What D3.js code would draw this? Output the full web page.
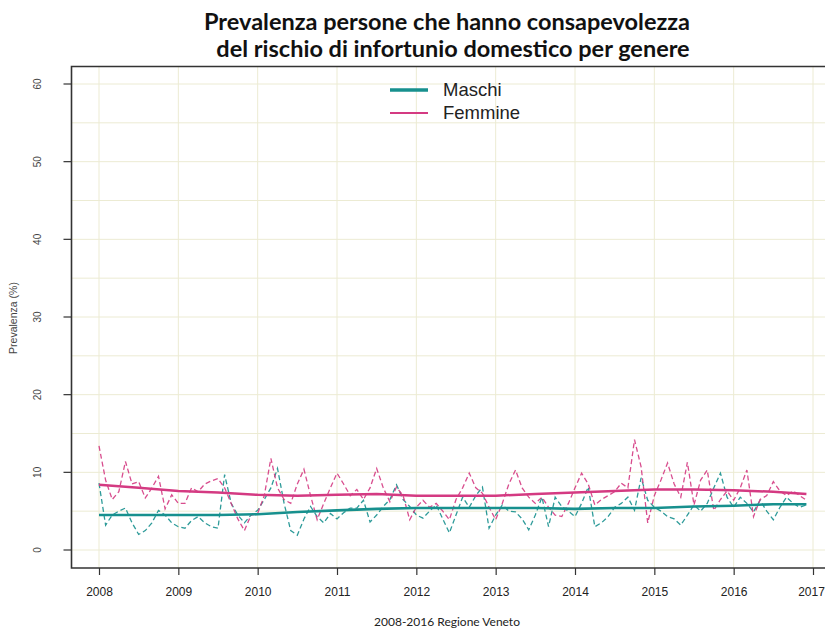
<!DOCTYPE html>
<html>
<head>
<meta charset="utf-8">
<script src="https://cdn.jsdelivr.net/npm/d3@7"></script>
<style>
  html, body { margin: 0; padding: 0; background: #ffffff; }
  svg { display: block; }
</style>
</head>
<body>
<svg id="chart" width="825" height="632"></svg>
<script>
// Monthly prevalence (%), January 2008 – December 2016
const startYear = 2008;
const femmine = [
  13.4, 9.0, 6.5, 7.5, 11.4, 8.5, 8.8, 6.7, 8.0, 9.5, 5.3, 7.1,
  6.0, 6.0, 8.0, 7.5, 8.5, 8.9, 9.2, 8.0, 6.0, 4.0, 2.5, 4.5,
  4.7, 7.0, 11.8, 8.0, 6.5, 6.0, 8.5, 10.4, 7.0, 3.9, 6.0, 8.0,
  9.9, 8.5, 7.0, 7.8, 6.5, 8.0, 10.5, 8.0, 6.2, 8.1, 7.0, 3.9,
  5.5, 6.4, 5.5, 6.0, 5.0, 3.9, 6.5, 8.0, 9.9, 8.0, 7.3, 5.5,
  3.9, 6.0, 8.5, 10.3, 8.0, 6.8, 6.0, 6.8, 5.5, 4.5, 4.3, 6.0,
  8.0, 9.9, 8.5, 5.8, 6.5, 7.0, 7.5, 8.6, 8.0, 14.2, 10.7, 3.5,
  7.0, 9.0, 11.2, 8.5, 6.8, 11.3, 5.8, 9.0, 10.3, 5.1, 6.5, 7.6,
  6.4, 8.0, 10.3, 4.3, 6.5, 7.0, 8.8, 7.6, 7.0, 7.6, 7.0, 6.4
];
const maschi = [
  8.6, 3.2, 4.5, 5.0, 5.4, 3.5, 2.0, 2.5, 3.5, 5.1, 4.5, 3.5,
  3.0, 2.8, 3.8, 4.3, 3.5, 3.0, 2.8, 9.7, 6.0, 4.5, 3.5, 4.5,
  5.1, 6.5, 8.0, 10.5, 6.0, 2.5, 1.9, 4.0, 5.6, 4.3, 3.5, 4.7,
  4.0, 4.8, 5.4, 5.4, 6.4, 3.6, 4.5, 5.6, 6.5, 8.4, 6.5, 5.6,
  4.5, 4.1, 5.0, 5.8, 4.0, 2.2, 4.5, 6.8, 5.5, 7.0, 8.1, 2.8,
  4.5, 5.8, 5.0, 4.9, 4.0, 2.6, 4.5, 6.8, 3.0, 6.8, 5.6, 5.0,
  4.3, 6.0, 8.1, 3.0, 3.5, 4.3, 5.5, 6.0, 6.8, 5.1, 9.3, 6.4,
  5.5, 5.0, 4.3, 4.0, 3.2, 4.5, 5.8, 5.0, 6.0, 8.0, 9.9, 6.8,
  5.5, 6.8, 6.0, 4.9, 6.4, 5.0, 3.9, 5.5, 6.8, 6.0, 5.5, 5.8
];

// Smoothed trend, sampled every half year
const trendTimes = [2008, 2008.5, 2009, 2009.5, 2010, 2010.5, 2011, 2011.5, 2012, 2012.5,
                    2013, 2013.5, 2014, 2014.5, 2015, 2015.5, 2016, 2016.5, 2016.917];
const trendFemmine = [8.4, 8.0, 7.6, 7.4, 7.1, 7.0, 7.1, 7.2, 7.0, 7.0,
                      7.0, 7.2, 7.4, 7.6, 7.8, 7.8, 7.7, 7.5, 7.2];
const trendMaschi = [4.5, 4.5, 4.5, 4.5, 4.6, 4.9, 5.1, 5.3, 5.4, 5.4,
                     5.4, 5.4, 5.3, 5.4, 5.4, 5.6, 5.7, 5.9, 5.9];

const xTicks = [2008, 2009, 2010, 2011, 2012, 2013, 2014, 2015, 2016, 2017];
const yTicks = [0, 10, 20, 30, 40, 50, 60];
const yGrid = [0, 5, 10, 15, 20, 25, 30, 35, 40, 45, 50, 55, 60];
const seriesNames = ["Maschi", "Femmine"];

const colMaschi = "#17908e";
const colFemmine = "#d43a82";

const svg = d3.select("#chart");
const box = { left: 71.5, right: 836, top: 66.5, bottom: 568 };

const x = d3.scaleLinear().domain([2008, 2017]).range([99, 813]);
const y = d3.scaleLinear().domain([0, 60]).range([550, 84]);

// grid
const grid = svg.append("g").attr("stroke", "#ecebd3").attr("stroke-width", 1);
grid.selectAll("line.gx").data(xTicks).join("line")
  .attr("x1", d => x(d)).attr("x2", d => x(d))
  .attr("y1", box.top).attr("y2", box.bottom);
grid.selectAll("line.gy").data(yGrid).join("line")
  .attr("x1", box.left).attr("x2", box.right)
  .attr("y1", d => y(d)).attr("y2", d => y(d));

// monthly series (dashed)
const t = i => startYear + i / 12;
const monthly = d3.line().x((d, i) => x(t(i))).y(d => y(d));
svg.append("path").datum(maschi).attr("d", monthly)
  .attr("fill", "none").attr("stroke", colMaschi).attr("stroke-width", 1.3)
  .attr("stroke-dasharray", "5,3").attr("opacity", 0.9);
svg.append("path").datum(femmine).attr("d", monthly)
  .attr("fill", "none").attr("stroke", colFemmine).attr("stroke-width", 1.3)
  .attr("stroke-dasharray", "5,3").attr("opacity", 0.9);

// trends
const trend = d3.line().x((d, i) => x(trendTimes[i])).y(d => y(d));
svg.append("path").datum(trendFemmine).attr("d", trend)
  .attr("fill", "none").attr("stroke", colFemmine).attr("stroke-width", 2.5);
svg.append("path").datum(trendMaschi).attr("d", trend)
  .attr("fill", "none").attr("stroke", colMaschi).attr("stroke-width", 2.6);

// axes
const xAxis = d3.axisBottom(x).tickValues(xTicks).tickFormat(d3.format("d")).tickSize(7).tickPadding(12);
const yAxis = d3.axisLeft(y).tickValues(yTicks).tickSize(8).tickPadding(0);

const gx = svg.append("g").attr("transform", `translate(0,${box.bottom})`).call(xAxis);
gx.select(".domain").remove();
gx.selectAll("line").attr("stroke", "#333").attr("stroke-width", 1.2);
gx.selectAll("text").attr("font-family", "Liberation Sans, Arial, sans-serif")
  .attr("font-size", 12).attr("fill", "#222")
  .attr("dx", d => d === 2017 ? -2 : 0);

const gy = svg.append("g").attr("transform", `translate(${box.left},0)`).call(yAxis);
gy.select(".domain").remove();
gy.selectAll("line").attr("stroke", "#333").attr("stroke-width", 1.2);
gy.selectAll("text")
  .attr("font-family", "Liberation Sans, Arial, sans-serif")
  .attr("font-size", 10).attr("fill", "#444")
  .attr("text-anchor", "middle")
  .attr("transform", d => `translate(-34,${y(d)}) rotate(-90) translate(0,${-y(d)})`)
  .attr("x", 0).attr("y", d => y(d)).attr("dy", "0.35em");
gy.selectAll(".tick").attr("transform", null);
gy.selectAll(".tick line").attr("y1", d => y(d)).attr("y2", d => y(d));

// plot frame
svg.append("path")
  .attr("d", `M${box.right},${box.top}H${box.left}V${box.bottom}H${box.right}`)
  .attr("fill", "none").attr("stroke", "#333").attr("stroke-width", 1.6);

// titles
const title = svg.append("text").attr("text-anchor", "middle")
  .attr("font-family", "Lato, 'Open Sans', sans-serif").attr("font-weight", "bold")
  .attr("font-size", 23.5).attr("fill", "#111");
title.append("tspan").attr("x", 447).attr("y", 30).text("Prevalenza persone che hanno consapevolezza");
title.append("tspan").attr("x", 453).attr("y", 57).text("del rischio di infortunio domestico per genere");

svg.append("text").attr("x", 447).attr("y", 626).attr("text-anchor", "middle")
  .attr("font-family", "Lato, 'Open Sans', sans-serif").attr("font-size", 12).attr("fill", "#222")
  .text("2008-2016 Regione Veneto");

svg.append("text").attr("transform", "translate(17,318) rotate(-90)")
  .attr("text-anchor", "middle").attr("font-family", "Liberation Sans, Arial, sans-serif")
  .attr("font-size", 10.5).attr("fill", "#444").text("Prevalenza (%)");

// legend
const legend = svg.append("g");
const legendRows = [
  { name: seriesNames[0], color: colMaschi, width: 3.6, y: 90 },
  { name: seriesNames[1], color: colFemmine, width: 2.2, y: 113 }
];
legendRows.forEach(r => {
  legend.append("line").attr("x1", 390).attr("x2", 428).attr("y1", r.y).attr("y2", r.y)
    .attr("stroke", r.color).attr("stroke-width", r.width);
  legend.append("text").attr("x", 443).attr("y", r.y).attr("dy", "0.35em")
    .attr("font-family", "Liberation Sans, Arial, sans-serif").attr("font-size", 18.5)
    .attr("fill", "#222").text(r.name);
});
</script>
</body>
</html>
